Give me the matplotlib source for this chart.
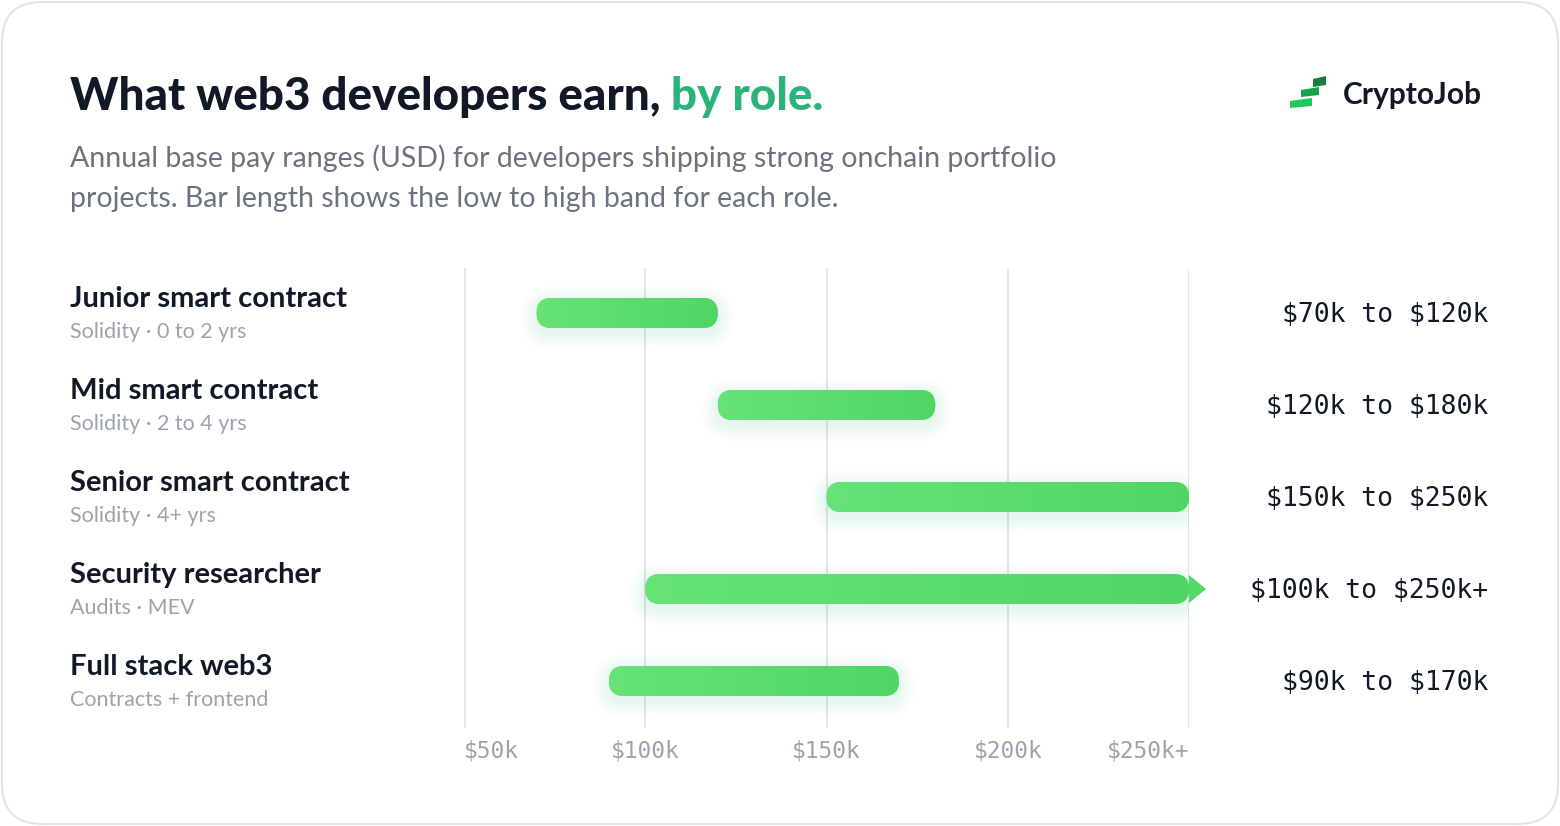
import numpy as np
import matplotlib
matplotlib.use("Agg")
import matplotlib.pyplot as plt
from matplotlib import transforms
from matplotlib.patches import FancyBboxPatch, Polygon
from matplotlib.colors import LinearSegmentedColormap

# ---------------- data ----------------
roles = ["Junior smart contract", "Mid smart contract", "Senior smart contract",
         "Security researcher", "Full stack web3"]
role_notes = ["Solidity · 0 to 2 yrs", "Solidity · 2 to 4 yrs", "Solidity · 4+ yrs",
              "Audits · MEV", "Contracts + frontend"]
low_k = [70, 120, 150, 100, 90]
high_k = [120, 180, 250, 250, 170]
open_ended = [False, False, False, True, False]
range_labels = ["$70k to $120k", "$120k to $180k", "$150k to $250k",
                "$100k to $250k+", "$90k to $170k"]
tick_values = [50, 100, 150, 200, 250]
tick_labels = ["$50k", "$100k", "$150k", "$200k", "$250k+"]

title_main = "What web3 developers earn,"
title_accent = " by role."
subtitle = ("Annual base pay ranges (USD) for developers shipping strong onchain portfolio\n"
            "projects. Bar length shows the low to high band for each role.")
brand = "CryptoJob"

# ---------------- style ----------------
plt.rcParams["text.parse_math"] = False
W, H = 1560, 826
DARK = "#111827"
GRAY = "#9CA3AF"
SUB = "#6B7280"
GRID = "#E5E7EB"
ACCENT = "#2BB47A"
SANS = ["Lato", "DejaVu Sans"]
MONO = ["DejaVu Sans Mono"]

fig = plt.figure(figsize=(W / 100, H / 100), dpi=100)
fig.patch.set_facecolor("white")

# background / decoration axes in pixel coordinates
bg = fig.add_axes([0, 0, 1, 1], zorder=0)
bg.set_xlim(0, W)
bg.set_ylim(H, 0)
bg.axis("off")

card = FancyBboxPatch((2, 2), W - 4, H - 4, boxstyle="round,pad=0,rounding_size=40",
                      facecolor="white", edgecolor="#E2E4E8", linewidth=1.5)
bg.add_patch(card)

# title
t1 = bg.text(70, 97, title_main, fontsize=33, fontweight="black", color=DARK,
             family=SANS, va="center", ha="left")
bg.annotate(title_accent, xy=(1, 0), xycoords=t1, va="bottom", ha="left",
            fontsize=33, fontweight="black", color=ACCENT, family=SANS)

bg.text(70, 178, subtitle, fontsize=20.5, color=SUB, family=SANS, va="center",
        ha="left", linespacing=1.68)

# logo
logo_strips = [
    ([(1313, 79), (1326, 76), (1326, 85), (1313, 87)], "#15803D"),
    ([(1301, 90), (1319, 87), (1319, 95), (1301, 97)], "#16A34A"),
    ([(1290, 101), (1312, 98), (1312, 106), (1290, 108)], "#22C55E"),
]
for pts, c in logo_strips:
    bg.add_patch(Polygon(pts, closed=True, facecolor=c, edgecolor="none"))
bg.text(1343, 95, brand, fontsize=21.5, fontweight="bold", color=DARK, family=SANS,
        va="center", ha="left")

# ---------------- data axes ----------------
x0, x1 = 464, 1189
y_top, y_bot = 268, 728
ax = fig.add_axes([x0 / W, 1 - y_bot / H, (x1 - x0) / W, (y_bot - y_top) / H], zorder=1)
ax.patch.set_alpha(0)
n = len(roles)
ax.set_xlim(tick_values[0], tick_values[-1])
ax.set_ylim(n - 0.489, -0.489)
for s in ax.spines.values():
    s.set_visible(False)

px_per_x = (x1 - x0) / (tick_values[-1] - tick_values[0])
px_per_y = (y_bot - y_top) / n

# grid lines
for v in tick_values[1:]:
    ax.axvline(v, color=GRID, lw=1.5, zorder=0)
ax.axvline(tick_values[0], color=GRID, lw=3, zorder=0)

ax.set_xticks(tick_values)
ax.set_xticklabels(tick_labels, family=MONO, fontsize=16.5, color=GRAY)
ax.tick_params(axis="x", length=0, pad=8)
ax.set_yticks([])
tl = ax.get_xticklabels()
tl[0].set_horizontalalignment("left")
tl[-1].set_horizontalalignment("right")

bar_px = 30
h = bar_px / px_per_y
asp = px_per_x / px_per_y
r = (bar_px / 2) / px_per_x
cmap = LinearSegmentedColormap.from_list("g", ["#67E378", "#50D565"])
grad = np.linspace(0, 1, 256).reshape(1, -1)

for i in range(n):
    lo, hi = low_k[i], high_k[i]
    # glow
    for k in range(2, 18, 2):
        g = FancyBboxPatch((lo, i - h / 2 + 5 / px_per_y), hi - lo, h,
                           boxstyle=f"round,pad={k / px_per_x},rounding_size={r + k / px_per_x}",
                           mutation_aspect=asp, facecolor="#4ADE80", edgecolor="none",
                           alpha=0.016, zorder=1)
        ax.add_patch(g)
    p = FancyBboxPatch((lo, i - h / 2), hi - lo, h,
                       boxstyle=f"round,pad=0,rounding_size={r}",
                       mutation_aspect=asp, facecolor="#58DA6B", edgecolor="none", zorder=2)
    ax.add_patch(p)
    im = ax.imshow(grad, cmap=cmap, extent=(lo, hi, i + h / 2, i - h / 2),
                   aspect="auto", zorder=3, interpolation="bilinear")
    im.set_clip_path(p)
    if open_ended[i]:
        ah = 14 / px_per_y
        aw = 17 / px_per_x
        ax.add_patch(Polygon([(hi, i - ah), (hi + aw, i), (hi, i + ah)], closed=True,
                             facecolor="#55D867", edgecolor="none", clip_on=False, zorder=3))

ax.set_xlim(tick_values[0], tick_values[-1])
ax.set_ylim(n - 0.489, -0.489)

# row labels
blend = transforms.blended_transform_factory(bg.transData, ax.transData)
t_up = transforms.offset_copy(blend, fig=fig, y=14, units="dots")
t_dn = transforms.offset_copy(blend, fig=fig, y=-19, units="dots")
t_val = transforms.offset_copy(blend, fig=fig, y=-2, units="dots")
for i in range(n):
    ax.text(70, i, roles[i], transform=t_up, fontsize=21, fontweight="bold",
            color=DARK, family=SANS, va="center", ha="left", clip_on=False)
    ax.text(70, i, role_notes[i], transform=t_dn, fontsize=15.5, color=GRAY,
            family=SANS, va="center", ha="left", clip_on=False)
    ax.text(1488, i, range_labels[i], transform=t_val, fontsize=19,
            color=DARK, family=MONO, va="center", ha="right", clip_on=False)

fig.savefig("out.png", dpi=100, facecolor="white")
